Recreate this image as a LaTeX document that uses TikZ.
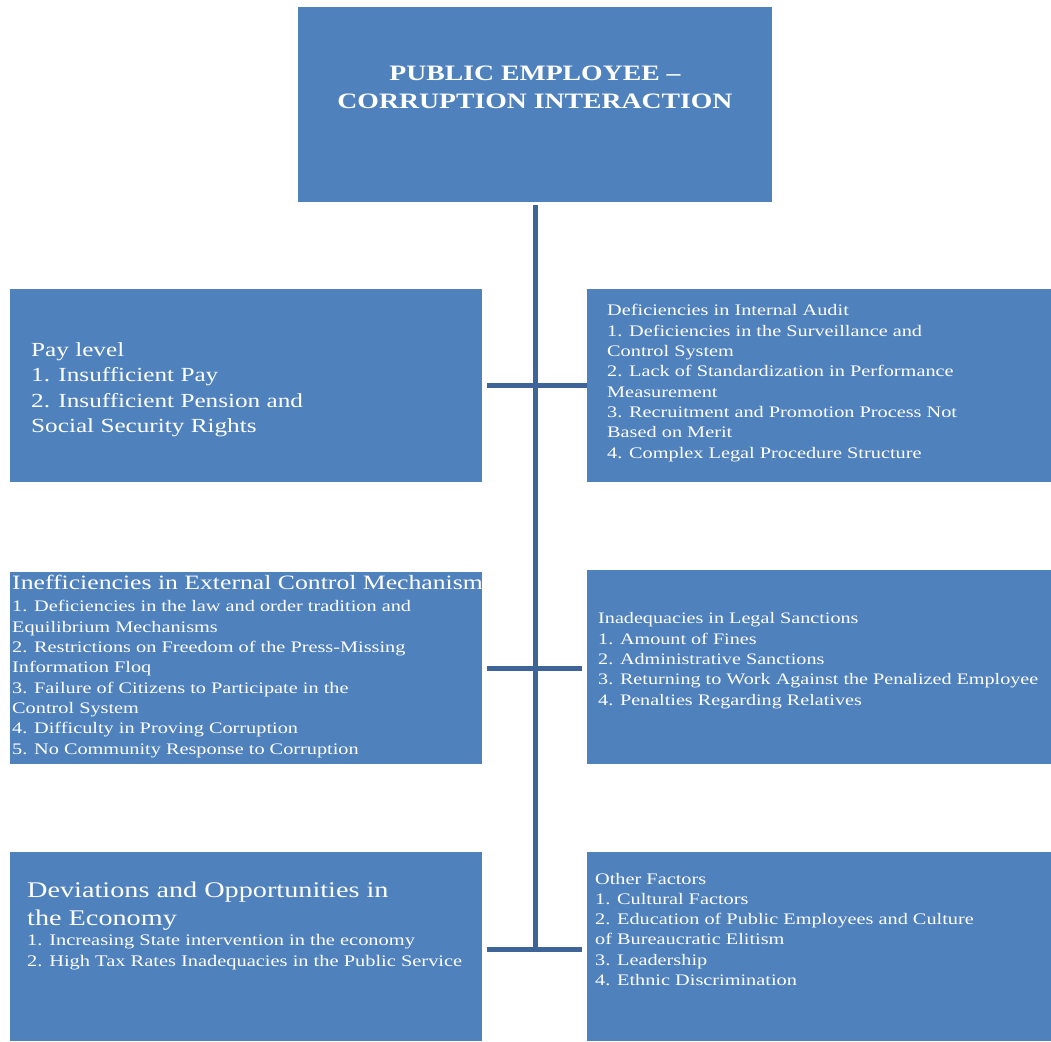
\documentclass[tikz,border=0pt]{standalone}
\usepackage{fontspec}
\setmainfont{Liberation Serif}[FakeStretch=1.26]
\usetikzlibrary{positioning}
\definecolor{boxblue}{HTML}{4F81BD}
\definecolor{linkblue}{HTML}{3F6497}

\begin{document}
\begin{tikzpicture}[x=1pt,y=-1pt,
		factor/.style={fill=boxblue, inner sep=0pt, outer sep=0pt, anchor=north west},
		txt/.style={text=white, inner sep=0pt, align=left, anchor=base west},
		link/.style={draw=linkblue, line width=5pt}]

  \useasboundingbox (0,0) rectangle (1051,1041);

  % boxes
  \node[factor, minimum width=474pt, minimum height=195pt] (top) at (298,7) {};
  \node[factor, minimum width=472pt, minimum height=193pt] (pay) at (10,289) {};
  \node[factor, minimum width=464pt, minimum height=193pt] (audit) at (587,289) {};
  \node[factor, minimum width=472pt, minimum height=192pt] (ext) at (10,572) {};
  \node[factor, minimum width=464pt, minimum height=194pt] (sanc) at (587,570) {};
  \node[factor, minimum width=472pt, minimum height=189pt] (econ) at (10,852) {};
  \node[factor, minimum width=464pt, minimum height=189pt] (other) at (587,852) {};

  % texts (base = baseline of the last line)
  \node[txt, align=center, anchor=base, font=\fontsize{22}{28}\selectfont\bfseries] (top-txt) at (535,108)
    {PUBLIC EMPLOYEE --\\CORRUPTION INTERACTION};
  \node[txt, font=\fontsize{20}{25.5}\selectfont] (pay-txt) at (31,432.5)
    {Pay level\\1. Insufficient Pay\\2. Insufficient Pension and\\Social Security Rights};
  \node[txt, font=\fontsize{16.1}{20.3}\selectfont] (audit-txt) at (607,458)
    {Deficiencies in Internal Audit\\1. Deficiencies in the Surveillance and\\Control System\\2. Lack of Standardization in Performance\\Measurement\\3. Recruitment and Promotion Process Not\\Based on Merit\\4. Complex Legal Procedure Structure};
  \node[txt, font=\fontsize{20.4}{24}\selectfont] (ext-head) at (12,589)
    {Inefficiencies in External Control Mechanism};
  \node[txt, font=\fontsize{16.1}{20.3}\selectfont] (ext-txt) at (12,754)
    {1. Deficiencies in the law and order tradition and\\Equilibrium Mechanisms\\2. Restrictions on Freedom of the Press-Missing\\Information Floq\\3. Failure of Citizens to Participate in the\\Control System\\4. Difficulty in Proving Corruption\\5. No Community Response to Corruption};
  \node[txt, font=\fontsize{16}{20.3}\selectfont] (sanc-txt) at (598,705)
    {Inadequacies in Legal Sanctions\\1. Amount of Fines\\2. Administrative Sanctions\\3. Returning to Work Against the Penalized Employee\\4. Penalties Regarding Relatives};
  \node[txt, font=\fontsize{22.4}{28}\selectfont] (econ-head) at (27,925)
    {Deviations and Opportunities in\\the Economy};
  \node[txt, font=\fontsize{16.2}{20.3}\selectfont] (econ-txt) at (27,966)
    {1. Increasing State intervention in the economy\\2. High Tax Rates Inadequacies in the Public Service};
  \node[txt, font=\fontsize{16.1}{20.3}\selectfont] (other-txt) at (595,985.5)
    {Other Factors\\1. Cultural Factors\\2. Education of Public Employees and Culture\\of Bureaucratic Elitism\\3. Leadership\\4. Ethnic Discrimination};

  % connectors
  \coordinate (spine-end) at (535,949);
  \draw[link, shorten <=3pt] (top.south) -- (spine-end);
  \draw[link, shorten <=5pt] (pay.east) -- (pay.east -| audit.west);
  \draw[link, shorten <=5pt, shorten >=5pt] (ext.east) -- (ext.east -| sanc.west);
  \draw[link, shorten <=5pt, shorten >=5pt] (econ.east |- spine-end) -- (other.west |- spine-end);

\end{tikzpicture}
\end{document}
